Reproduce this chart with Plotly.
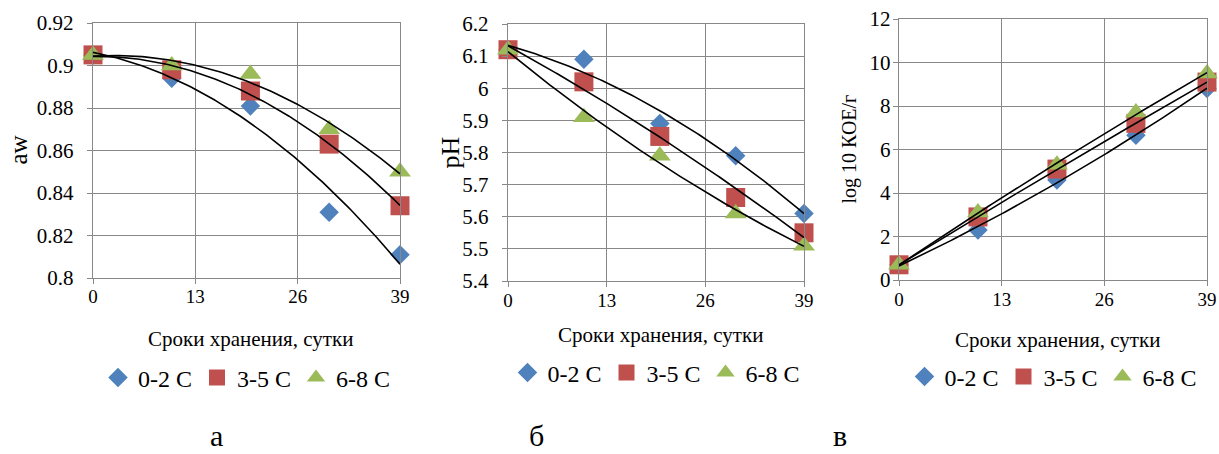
import numpy as np
import plotly.graph_objects as go

# ---------------- data ----------------
days = [0, 10, 20, 30, 39]
series_names = ["0-2 C", "3-5 C", "6-8 C"]

aw_02 = [0.905, 0.894, 0.881, 0.831, 0.811]
aw_35 = [0.905, 0.898, 0.888, 0.863, 0.834]
aw_68 = [0.905, 0.900, 0.896, 0.870, 0.850]

ph_02 = [6.12, 6.09, 5.89, 5.79, 5.61]
ph_35 = [6.12, 6.02, 5.85, 5.66, 5.55]
ph_68 = [6.12, 5.91, 5.79, 5.61, 5.51]

log_02 = [0.70, 2.30, 4.60, 6.65, 8.80]
log_35 = [0.70, 2.90, 5.10, 7.20, 9.10]
log_68 = [0.70, 3.10, 5.30, 7.70, 9.50]

x_tickvals = [0, 13, 26, 39]
x_ticktext = ["0", "13", "26", "39"]

aw_tickvals = [0.80, 0.82, 0.84, 0.86, 0.88, 0.90, 0.92]
aw_ticktext = ["0.8", "0.82", "0.84", "0.86", "0.88", "0.9", "0.92"]
ph_tickvals = [5.4, 5.5, 5.6, 5.7, 5.8, 5.9, 6.0, 6.1, 6.2]
ph_ticktext = ["5.4", "5.5", "5.6", "5.7", "5.8", "5.9", "6", "6.1", "6.2"]
log_tickvals = [0, 2, 4, 6, 8, 10, 12]
log_ticktext = ["0", "2", "4", "6", "8", "10", "12"]

x_title = "Сроки хранения, сутки"
y_titles = ["aw", "pH", "log 10 КОЕ/г"]
panel_labels = ["а", "б", "в"]

# ---------------- style ----------------
W, H = 1219, 454
FONT = "Liberation Serif, Times New Roman, serif"
colors = ["#4F81BD", "#C0504D", "#9BBB59"]
symbols = ["diamond", "square", "triangle-up"]
msizes = [15, 19, 19]
GRID = "#888888"

# plot-area pixel boxes (left, right, top, bottom)
boxes = [(93, 400, 23, 278), (508, 804, 24, 281), (899, 1207, 19, 280)]

fig = go.Figure()
panels = [
    ([aw_02, aw_35, aw_68], aw_tickvals, aw_ticktext),
    ([ph_02, ph_35, ph_68], ph_tickvals, ph_ticktext),
    ([log_02, log_35, log_68], log_tickvals, log_ticktext),
]
legend_ids = ["legend", "legend2", "legend3"]
xs_fit = np.linspace(0, 39, 120)

for p, (data, tv, tt) in enumerate(panels):
    xa = "x" if p == 0 else f"x{p+1}"
    ya = "y" if p == 0 else f"y{p+1}"
    for s, ys in enumerate(data):
        fig.add_trace(go.Scatter(
            x=days, y=ys, mode="markers", name=series_names[s],
            marker=dict(symbol=symbols[s], size=msizes[s], color=colors[s],
                        line=dict(width=0)),
            xaxis=xa, yaxis=ya, legend=legend_ids[p], cliponaxis=False,
        ))
    for s, ys in enumerate(data):
        c = np.polyfit(days, ys, 2)
        fig.add_trace(go.Scatter(
            x=xs_fit, y=np.polyval(c, xs_fit), mode="lines",
            line=dict(color="black", width=1.6), showlegend=False,
            xaxis=xa, yaxis=ya, hoverinfo="skip", cliponaxis=False,
        ))

layout = dict(
    template="none",
    width=W, height=H, margin=dict(l=0, r=0, t=0, b=0, autoexpand=False),
    paper_bgcolor="white", plot_bgcolor="white",
    font=dict(family=FONT, color="black"),
    showlegend=True,
)

y_ranges = [[0.8, 0.92], [5.4, 6.2], [0, 12]]
ystand = [9, 9, -2]
xstand = [-4, -3, -3]
for p in range(3):
    l, r, t, b = boxes[p]
    sx = "" if p == 0 else str(p + 1)
    layout[f"xaxis{sx}"] = dict(
        domain=[l / W, r / W], range=[0, 39], tickvals=x_tickvals, ticktext=x_ticktext,
        showgrid=True, gridcolor=GRID, gridwidth=1.4, showline=True, linecolor=GRID,
        linewidth=1.4, mirror=True, ticks="outside", ticklen=5, tickcolor=GRID,
        tickfont=dict(family=FONT, size=19, color="black"), zeroline=False,
        anchor="y" + sx, fixedrange=True, automargin=False,
        ticklabelstandoff=xstand[p],
    )
    layout[f"yaxis{sx}"] = dict(
        domain=[1 - b / H, 1 - t / H], range=y_ranges[p],
        tickvals=panels[p][1], ticktext=panels[p][2],
        showgrid=True, gridcolor=GRID, gridwidth=1.4, showline=True, linecolor=GRID,
        linewidth=1.4, mirror=True, ticks="outside", ticklen=5, tickcolor=GRID,
        tickfont=dict(family=FONT, size=21, color="black"), zeroline=False,
        anchor="x" + sx, fixedrange=True, automargin=False,
        ticklabelstandoff=ystand[p],
    )

# legends
leg_y = [378, 373, 377]
for p in range(3):
    l, r, t, b = boxes[p]
    cx = ((l + r) / 2) / W
    key = "legend" if p == 0 else f"legend{p+1}"
    layout[key] = dict(
        x=cx, y=1 - leg_y[p] / H, xanchor="center", yanchor="middle",
        orientation="h", font=dict(family=FONT, size=24, color="black"),
        bgcolor="rgba(0,0,0,0)", itemsizing="trace", tracegroupgap=0,
    )

fig.update_layout(**layout)

# annotations: axis titles and panel labels
ann = []
xt_y = [339, 335, 340]
for p in range(3):
    l, r, t, b = boxes[p]
    ann.append(dict(text=x_title, x=((l + r) / 2 + 4) / W, y=1 - xt_y[p] / H,
                    xref="paper", yref="paper", showarrow=False,
                    xanchor="center", yanchor="middle",
                    font=dict(family=FONT, size=21, color="black")))
yt_x = [18, 450, 849]
yt_size = [25, 26, 20]
for p in range(3):
    l, r, t, b = boxes[p]
    ann.append(dict(text=y_titles[p], x=yt_x[p] / W, y=1 - ((t + b) / 2) / H,
                    xref="paper", yref="paper", showarrow=False, textangle=-90,
                    xanchor="center", yanchor="middle",
                    font=dict(family=FONT, size=yt_size[p], color="black")))
lab_x = [216, 536, 840]
for p in range(3):
    ann.append(dict(text=panel_labels[p], x=lab_x[p] / W, y=0,
                    xref="paper", yref="paper", showarrow=False,
                    xanchor="center", yanchor="bottom",
                    font=dict(family=FONT, size=30, color="black")))
fig.update_layout(annotations=ann)

fig.write_html(
    "out.html",
    config={"displayModeBar": False},
    post_script="document.body.style.margin='0';document.body.style.overflow='hidden';",
)
